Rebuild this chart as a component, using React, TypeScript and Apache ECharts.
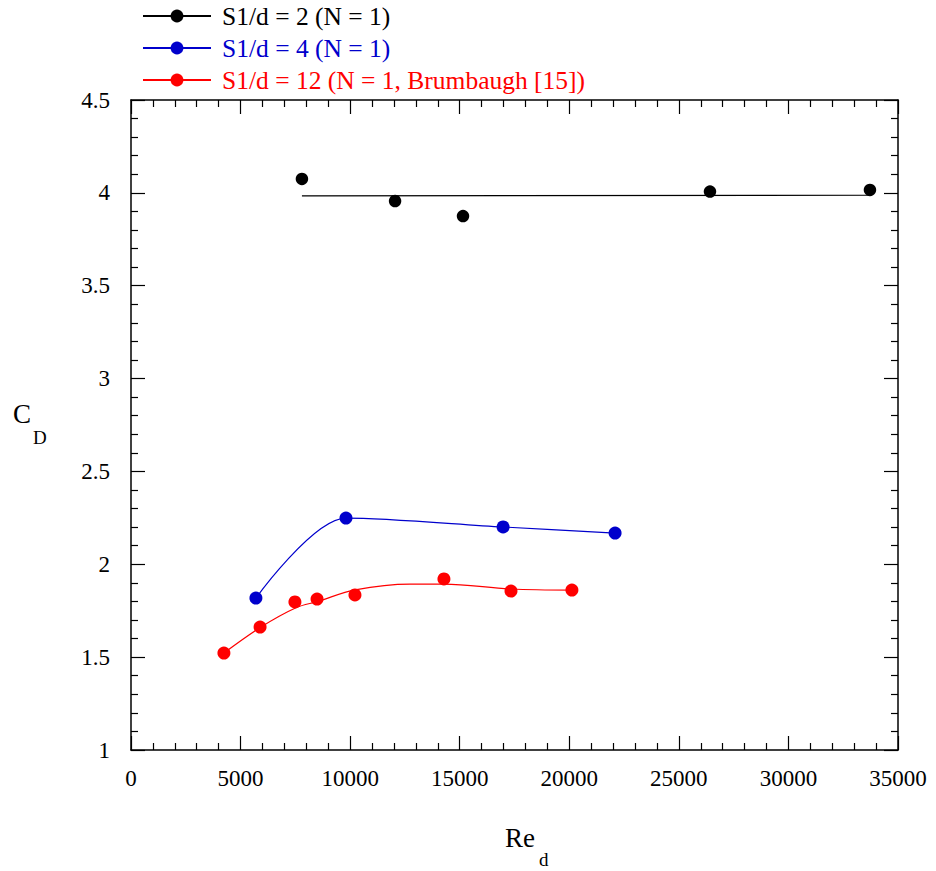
import React, { useEffect, useRef } from "react";
import * as echarts from "echarts";

const FONT = "'Liberation Serif', 'Times New Roman', serif";

const xTicks = [0, 35000, 5000];
const yTicks = [1, 4.5, 0.5];

const labels = [
  "S1/d = 2 (N = 1)",
  "S1/d = 4 (N = 1)",
  "S1/d = 12 (N = 1, Brumbaugh [15])",
];
const colors = ["#000000", "#0000cc", "#ff0000"];

// S1/d = 2 measured points and fitted line
const blackX = [7800, 12050, 15150, 26420, 33720];
const blackY = [4.075, 3.956, 3.875, 4.007, 4.016];
const blackFitX = [7800, 33720];
const blackFitY = [3.984, 3.987];

// S1/d = 4 measured points (curve passes through them)
const blueX = [5700, 9810, 16980, 22090];
const blueY = [1.818, 2.249, 2.201, 2.168];

// S1/d = 12 measured points and fitted curve
const redX = [4240, 5890, 7480, 8490, 10220, 14280, 17340, 20120];
const redY = [1.522, 1.662, 1.797, 1.813, 1.835, 1.921, 1.856, 1.861];
const redFitX = [4240, 5930, 7530, 8530, 10230, 12730, 14280, 17340, 20120];
const redFitY = [1.522, 1.662, 1.766, 1.8, 1.862, 1.893, 1.893, 1.867, 1.861];

const zip = (xs: number[], ys: number[]) => xs.map((x, i) => [x, ys[i]]);

export default function App() {
  const ref = useRef<HTMLDivElement>(null);
  useEffect(() => {
    if (!ref.current) return;
    const chart = echarts.init(ref.current, undefined, { renderer: "svg" });
    const axisLine = { show: true, onZero: false, lineStyle: { color: "#000", width: 1.5 } };
    const tick = { show: true, inside: true, length: 14, lineStyle: { color: "#000", width: 1.2 } };
    const minor = { show: true, splitNumber: 5, length: 7, lineStyle: { color: "#000", width: 1.2 } };
    const lbl = { color: "#000", fontFamily: FONT, fontSize: 23 };
    const baseX = {
      type: "value",
      min: xTicks[0],
      max: xTicks[1],
      interval: xTicks[2],
      axisLine,
      axisTick: tick,
      minorTick: minor,
      splitLine: { show: false },
      minorSplitLine: { show: false },
    };
    const baseY = {
      type: "value",
      min: yTicks[0],
      max: yTicks[1],
      interval: yTicks[2],
      axisLine,
      axisTick: tick,
      minorTick: minor,
      splitLine: { show: false },
      minorSplitLine: { show: false },
    };
    const lineSeries = (name: string, color: string, data: number[][], smooth: boolean | number) => ({
      type: "line",
      name,
      data,
      smooth,
      showSymbol: false,
      symbol: "circle",
      itemStyle: { color },
      lineStyle: { color, width: 1.2 },
      z: 2,
    });
    const scatterSeries = (name: string, color: string, data: number[][], size: number) => ({
      type: "scatter",
      name,
      data,
      symbol: "circle",
      symbolSize: size,
      itemStyle: { color, opacity: 1 },
      z: 3,
    });
    chart.setOption({
      animation: false,
      backgroundColor: "#fff",
      textStyle: { fontFamily: FONT },
      grid: { left: 131, right: 38, top: 100, bottom: 121, containLabel: false },
      legend: {
        orient: "vertical",
        left: 142,
        top: 3,
        padding: 0,
        itemWidth: 68,
        itemHeight: 16,
        itemGap: 6,
        data: labels.map((n, i) => ({ name: n, textStyle: { color: colors[i] } })),
        textStyle: { fontFamily: FONT, fontSize: 25.5, padding: [0, 0, 0, 6] },
      },
      xAxis: [
        {
          ...baseX,
          position: "bottom",
          axisLabel: { ...lbl, margin: 17, formatter: (v: number) => String(v) },
        },
        { ...baseX, position: "top", axisLabel: { show: false } },
      ],
      yAxis: [
        { ...baseY, position: "left", axisLabel: { ...lbl, margin: 21, formatter: (v: number) => String(v) } },
        { ...baseY, position: "right", axisLabel: { show: false } },
      ],
      series: [
        lineSeries(labels[0], colors[0], zip(blackFitX, blackFitY), false),
        scatterSeries("pts0", colors[0], zip(blackX, blackY), 12.5),
        lineSeries(labels[1], colors[1], zip(blueX, blueY), 0.3),
        scatterSeries("pts1", colors[1], zip(blueX, blueY), 13),
        lineSeries(labels[2], colors[2], zip(redFitX, redFitY), 0.35),
        scatterSeries("pts2", colors[2], zip(redX, redY), 13),
      ],
      graphic: [
        { type: "text", x: 13, y: 414, style: { text: "C", fontFamily: FONT, fontSize: 27, fill: "#000", verticalAlign: "middle" } },
        { type: "text", x: 33, y: 437, style: { text: "D", fontFamily: FONT, fontSize: 19, fill: "#000", verticalAlign: "middle" } },
        { type: "text", x: 505, y: 838, style: { text: "Re", fontFamily: FONT, fontSize: 27, fill: "#000", verticalAlign: "middle" } },
        { type: "text", x: 539, y: 859, style: { text: "d", fontFamily: FONT, fontSize: 19, fill: "#000", verticalAlign: "middle" } },
      ],
    });
    return () => chart.dispose();
  }, []);
  return (
    <div
      ref={ref}
      style={{ position: "fixed", left: 0, top: 0, width: 936, height: 871, background: "#fff" }}
    />
  );
}
